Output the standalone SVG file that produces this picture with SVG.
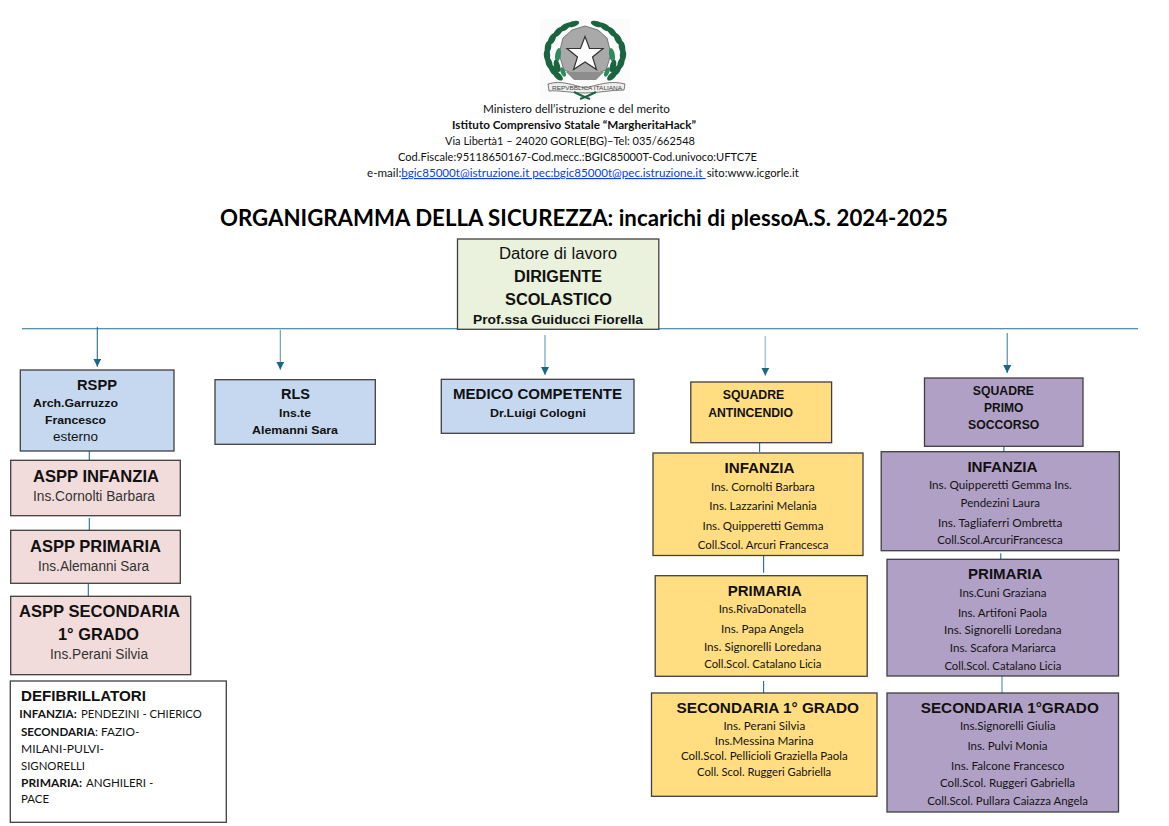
<svg xmlns="http://www.w3.org/2000/svg" width="1169" height="826" viewBox="0 0 1169 826">
<style>
text{fill:#111}
.h{font-family:"Lato","Carlito","Liberation Sans",sans-serif;font-size:11.200px}
.n{font-family:"Lato","Carlito","Liberation Sans",sans-serif;font-size:11.300px;fill:#141414}
.cb{font-weight:700}
.t{font-family:"Lato","Liberation Sans",sans-serif;font-size:23px;font-weight:700;fill:#000}
.a{font-family:"Liberation Sans",Arial,sans-serif}
.b{font-weight:700}
.box{stroke:#3f3f3f;stroke-width:1.3}
.blue{fill:#c6d8f0}.pink{fill:#f2dcdb}.green{fill:#eaf1dd}.yellow{fill:#ffdd80}.purple{fill:#b1a0c6}.white{fill:#fff}
.c{stroke:#1f6f94;stroke-width:1.1;fill:none}
.link{fill:#0a3cf0;text-decoration:underline}
.lf{fill:#1a6440}
.lf2{fill:#2f8a5e}
</style>
<defs>
<marker id="ah" markerUnits="userSpaceOnUse" markerWidth="9" markerHeight="9" refX="8" refY="4" orient="auto"><path d="M0 0L8 4L0 8Z" fill="#1c6688"/></marker>
<g id="wreath">
<ellipse class="lf" cx="573" cy="24" rx="6.500" ry="2.800" transform="rotate(-18 573 24)"/>
<ellipse class="lf" cx="565" cy="27" rx="6.500" ry="3" transform="rotate(-35 565 27)"/>
<ellipse class="lf" cx="558" cy="32" rx="6.500" ry="3" transform="rotate(-48 558 32)"/>
<ellipse class="lf" cx="552" cy="39" rx="6.500" ry="3.200" transform="rotate(-62 552 39)"/>
<ellipse class="lf" cx="548" cy="47" rx="6.500" ry="3.200" transform="rotate(-80 548 47)"/>
<ellipse class="lf" cx="547" cy="55" rx="6.500" ry="3.200" transform="rotate(88 547 55)"/>
<ellipse class="lf" cx="549" cy="63" rx="6.500" ry="3.200" transform="rotate(72 549 63)"/>
<ellipse class="lf" cx="553" cy="70" rx="6.500" ry="3.200" transform="rotate(58 553 70)"/>
<ellipse class="lf" cx="558" cy="76" rx="6" ry="3" transform="rotate(42 558 76)"/>
<ellipse class="lf2" cx="558" cy="55" rx="7" ry="2.800" transform="rotate(-80 558 55)"/>
<ellipse class="lf" cx="557" cy="66" rx="6.500" ry="3" transform="rotate(75 557 66)"/>
<ellipse class="lf2" cx="563" cy="72" rx="5" ry="2.200" transform="rotate(65 563 72)"/>
</g>
</defs>

<g id="emblem">
<rect x="540" y="19" width="90" height="81" fill="#fbfbfb"/>
<path d="M585 26L598 30L607 38L611 54L606 70L585 78L564 70L559 54L563 38L572 30Z" fill="#a9a9a9" stroke="#777" stroke-width="1"/>
<use href="#wreath"/>
<use href="#wreath" transform="translate(1170 0) scale(-1 1)"/>
<path d="M566 72L604 72L596 80L574 80Z" fill="#8d8d8d"/>
<path d="M585 36.500L589.500 48.500L603 48.500L592.500 57L596.500 69.500L585 62L573.500 69.500L577.500 57L567 48.500L580.500 48.500Z" fill="#fff" stroke="#333" stroke-width="1.200"/>
<path d="M548 84C562 80 572 85 585 88C598 85 610 80 625 84L624 90C610 90 598 93 585 93C572 93 558 90 549 91Z" fill="#eee" stroke="#444" stroke-width=".7"/>
<path d="M574 92C580 95 584 97 590 99M596 92C592 94 586 97 580 99" fill="none" stroke="#1a6440" stroke-width="2"/>
<text class="a" x="552" y="90" font-size="4.600" textLength="70" lengthAdjust="spacingAndGlyphs" style="fill:#444">REPVBBLICA ITALIANA</text>
</g>

<g id="letterhead">
<text class="h" x="483" y="113" textLength="187" lengthAdjust="spacingAndGlyphs">Ministero dell’istruzione e del merito</text>
<text class="h cb" x="452" y="129" textLength="244" lengthAdjust="spacingAndGlyphs">Istituto Comprensivo Statale “MargheritaHack”</text>
<text class="h" x="445" y="145" textLength="250" lengthAdjust="spacingAndGlyphs">Via Libertà1 – 24020 GORLE(BG)–Tel: 035/662548</text>
<text class="h" x="398" y="161" textLength="359" lengthAdjust="spacingAndGlyphs">Cod.Fiscale:95118650167-Cod.mecc.:BGIC85000T-Cod.univoco:UFTC7E</text>
<text class="h" x="367" y="177"><tspan textLength="34.300" lengthAdjust="spacingAndGlyphs">e-mail:</tspan><tspan class="link" x="401.300" textLength="301" lengthAdjust="spacingAndGlyphs">bgic85000t@istruzione.it pec:bgic85000t@pec.istruzione.it</tspan><tspan x="706.700" textLength="92" lengthAdjust="spacingAndGlyphs">sito:www.icgorle.it</tspan></text>
<path d="M702 178.500H705.700" stroke="#0a3cf0" stroke-width="1"/>
<text class="t" x="220" y="225.500" textLength="728" lengthAdjust="spacingAndGlyphs">ORGANIGRAMMA DELLA SICUREZZA: incarichi di plessoA.S. 2024-2025</text>
</g>

<g id="connectors">
<path class="c" d="M22 328.700H1138" stroke-width="1.300"/>
<path class="c" d="M97.300 326.700V366.700" marker-end="url(#ah)"/>
<path class="c" d="M280.300 330V369.700" style="stroke:#5d9ab7" marker-end="url(#ah)"/>
<path class="c" d="M545 335V375" style="stroke:#5d9ab7" marker-end="url(#ah)"/>
<path class="c" d="M765.300 336V375.700" style="stroke:#a5c9db;stroke-width:1.500" marker-end="url(#ah)"/>
<path class="c" d="M1007.200 333V373" style="stroke:#3f86a6" marker-end="url(#ah)"/>
<path class="c" d="M89.300 451V460M89.300 518V530M88.300 584V596"/>
<path class="c" d="M759.600 443V452M763.600 556V572.700M763.600 681V693"/>
<path class="c" d="M1003.900 446V456M1000.800 553.300V559.300"/>
<path class="c" d="M1002 676V693" style="stroke:#4a8fb0"/>
</g>

<g id="datore">
<rect class="box green" x="457.500" y="239" width="201.300" height="90.300"/>
<text class="a" x="499" y="259" font-size="16" textLength="118" lengthAdjust="spacingAndGlyphs">Datore di lavoro</text>
<text class="a b" x="514" y="282" font-size="16" textLength="88" lengthAdjust="spacingAndGlyphs">DIRIGENTE</text>
<text class="a b" x="505" y="305" font-size="16" textLength="107" lengthAdjust="spacingAndGlyphs">SCOLASTICO</text>
<text class="a b" x="473" y="324" font-size="13" textLength="170" lengthAdjust="spacingAndGlyphs">Prof.ssa Guiducci Fiorella</text>
</g>

<g id="rspp">
<rect class="box blue" x="20.300" y="370" width="153.700" height="81"/>
<text class="a b" x="77" y="390" font-size="14.500" textLength="40" lengthAdjust="spacingAndGlyphs">RSPP</text>
<text class="a b" x="33" y="407" font-size="11.500" textLength="85" lengthAdjust="spacingAndGlyphs">Arch.Garruzzo</text>
<text class="a b" x="45" y="424" font-size="11.500" textLength="61" lengthAdjust="spacingAndGlyphs">Francesco</text>
<text class="a" x="53" y="441" font-size="12" textLength="45" lengthAdjust="spacingAndGlyphs">esterno</text>
</g>
<g id="rls">
<rect class="box blue" x="215" y="379.700" width="160.300" height="64.600"/>
<text class="a b" x="281" y="399" font-size="15" textLength="29" lengthAdjust="spacingAndGlyphs">RLS</text>
<text class="a b" x="279" y="417" font-size="11.500" textLength="32" lengthAdjust="spacingAndGlyphs">Ins.te</text>
<text class="a b" x="252" y="434" font-size="11.500" textLength="86" lengthAdjust="spacingAndGlyphs">Alemanni Sara</text>
</g>
<g id="medico">
<rect class="box blue" x="441.300" y="379.300" width="192.700" height="54"/>
<text class="a b" x="453" y="399" font-size="15" textLength="169" lengthAdjust="spacingAndGlyphs">MEDICO COMPETENTE</text>
<text class="a b" x="490" y="417" font-size="11.500" textLength="96" lengthAdjust="spacingAndGlyphs">Dr.Luigi Cologni</text>
</g>
<g id="aspp-infanzia">
<rect class="box pink" x="10.700" y="460.300" width="169.600" height="55.400"/>
<text class="a b" x="33" y="482" font-size="16.500" textLength="126" lengthAdjust="spacingAndGlyphs">ASPP INFANZIA</text>
<text class="a" x="33" y="501" font-size="14" textLength="122" lengthAdjust="spacingAndGlyphs" style="fill:#333">Ins.Cornolti Barbara</text>
</g>
<g id="aspp-primaria">
<rect class="box pink" x="10.700" y="530.300" width="169.600" height="53"/>
<text class="a b" x="30" y="552" font-size="16.500" textLength="131" lengthAdjust="spacingAndGlyphs">ASPP PRIMARIA</text>
<text class="a" x="38" y="571" font-size="14" textLength="111" lengthAdjust="spacingAndGlyphs" style="fill:#333">Ins.Alemanni Sara</text>
</g>
<g id="aspp-secondaria">
<rect class="box pink" x="10.700" y="596.300" width="180" height="78.400"/>
<text class="a b" x="19" y="617" font-size="16.500" textLength="161" lengthAdjust="spacingAndGlyphs">ASPP SECONDARIA</text>
<text class="a b" x="58" y="640" font-size="16.500" textLength="81" lengthAdjust="spacingAndGlyphs">1° GRADO</text>
<text class="a" x="50" y="659" font-size="14" textLength="98" lengthAdjust="spacingAndGlyphs" style="fill:#333">Ins.Perani Silvia</text>
</g>
<g id="defibrillatori">
<rect class="box white" x="10.300" y="681" width="216" height="141.300"/>
<text class="a b" x="21" y="701" font-size="15.500" textLength="125" lengthAdjust="spacingAndGlyphs">DEFIBRILLATORI</text>
<text class="n" x="19.300" y="718"><tspan class="cb" textLength="57.400" lengthAdjust="spacingAndGlyphs">INFANZIA:</tspan><tspan x="81" textLength="120.700" lengthAdjust="spacingAndGlyphs">PENDEZINI - CHIERICO</tspan></text>
<text class="n" x="21" y="736"><tspan class="cb" textLength="74" lengthAdjust="spacingAndGlyphs">SECONDARIA</tspan><tspan x="95" textLength="44.300" lengthAdjust="spacingAndGlyphs">: FAZIO-</tspan></text>
<text class="n" x="21" y="753" textLength="83" lengthAdjust="spacingAndGlyphs">MILANI-PULVI-</text>
<text class="n" x="21" y="770" textLength="64" lengthAdjust="spacingAndGlyphs">SIGNORELLI</text>
<text class="n" x="21" y="787"><tspan class="cb" textLength="61" lengthAdjust="spacingAndGlyphs">PRIMARIA:</tspan><tspan x="86" textLength="67.300" lengthAdjust="spacingAndGlyphs">ANGHILERI -</tspan></text>
<text class="n" x="21" y="803" textLength="28" lengthAdjust="spacingAndGlyphs">PACE</text>
</g>

<g id="squadre-antincendio">
<rect class="box yellow" x="690.800" y="382" width="140.800" height="60.700"/>
<text class="a b" x="722.800" y="399.300" font-size="12" textLength="61.500" lengthAdjust="spacingAndGlyphs">SQUADRE</text>
<text class="a b" x="708.200" y="416.700" font-size="12" textLength="84.800" lengthAdjust="spacingAndGlyphs">ANTINCENDIO</text>
</g>
<g id="antincendio-infanzia">
<rect class="box yellow" x="653" y="453" width="210" height="102.500"/>
<text class="a b" x="724.500" y="473.300" font-size="15.500" textLength="69.900" lengthAdjust="spacingAndGlyphs">INFANZIA</text>
<text class="n" x="711" y="490.700" textLength="103.700" lengthAdjust="spacingAndGlyphs">Ins. Cornolti Barbara</text>
<text class="n" x="709.300" y="510.300" textLength="107.400" lengthAdjust="spacingAndGlyphs">Ins. Lazzarini Melania</text>
<text class="n" x="702.500" y="530" textLength="120.900" lengthAdjust="spacingAndGlyphs">Ins. Quipperetti Gemma</text>
<text class="n" x="697.800" y="548.700" textLength="130.700" lengthAdjust="spacingAndGlyphs">Coll.Scol. Arcuri Francesca</text>
</g>
<g id="antincendio-primaria">
<rect class="box yellow" x="655.200" y="575.700" width="212" height="100.600"/>
<text class="a b" x="727.800" y="596" font-size="15.500" textLength="74" lengthAdjust="spacingAndGlyphs">PRIMARIA</text>
<text class="n" x="718.700" y="613.300" textLength="87.500" lengthAdjust="spacingAndGlyphs">Ins.RivaDonatella</text>
<text class="n" x="721" y="633.300" textLength="82.900" lengthAdjust="spacingAndGlyphs">Ins. Papa Angela</text>
<text class="n" x="703.900" y="650.700" textLength="117.500" lengthAdjust="spacingAndGlyphs">Ins. Signorelli Loredana</text>
<text class="n" x="704.200" y="668.300" textLength="117.200" lengthAdjust="spacingAndGlyphs">Coll.Scol. Catalano Licia</text>
</g>
<g id="antincendio-secondaria">
<rect class="box yellow" x="651.500" y="693" width="225.500" height="103.300"/>
<text class="a b" x="676.500" y="712.700" font-size="15.500" textLength="182.400" lengthAdjust="spacingAndGlyphs">SECONDARIA 1° GRADO</text>
<text class="n" x="723.400" y="729.700" textLength="81.800" lengthAdjust="spacingAndGlyphs">Ins. Perani Silvia</text>
<text class="n" x="714.700" y="745" textLength="98.900" lengthAdjust="spacingAndGlyphs">Ins.Messina Marina</text>
<text class="n" x="680.900" y="760" textLength="166.900" lengthAdjust="spacingAndGlyphs">Coll.Scol. Pellicioli Graziella Paola</text>
<text class="n" x="697" y="775.700" textLength="134.200" lengthAdjust="spacingAndGlyphs">Coll. Scol. Ruggeri Gabriella</text>
</g>

<g id="squadre-primo-soccorso">
<rect class="box purple" x="924.500" y="378" width="158.500" height="68.300"/>
<text class="a b" x="972.800" y="395.300" font-size="12" textLength="61.200" lengthAdjust="spacingAndGlyphs">SQUADRE</text>
<text class="a b" x="984" y="412.300" font-size="12" textLength="39.400" lengthAdjust="spacingAndGlyphs">PRIMO</text>
<text class="a b" x="968" y="429.300" font-size="12" textLength="71.300" lengthAdjust="spacingAndGlyphs">SOCCORSO</text>
</g>
<g id="soccorso-infanzia">
<rect class="box purple" x="881.200" y="451.700" width="238.100" height="99"/>
<text class="a b" x="967.400" y="472" font-size="15.500" textLength="70.200" lengthAdjust="spacingAndGlyphs">INFANZIA</text>
<text class="n" x="928.900" y="489.300" textLength="142.900" lengthAdjust="spacingAndGlyphs">Ins. Quipperetti Gemma Ins.</text>
<text class="n" x="960.600" y="506.700" textLength="79.400" lengthAdjust="spacingAndGlyphs">Pendezini Laura</text>
<text class="n" x="938" y="526.700" textLength="124.300" lengthAdjust="spacingAndGlyphs">Ins. Tagliaferri Ombretta</text>
<text class="n" x="937.300" y="544.300" textLength="125.300" lengthAdjust="spacingAndGlyphs">Coll.Scol.ArcuriFrancesca</text>
</g>
<g id="soccorso-primaria">
<rect class="box purple" x="887" y="559.300" width="231.500" height="116.700"/>
<text class="a b" x="968" y="579.300" font-size="15.500" textLength="74.400" lengthAdjust="spacingAndGlyphs">PRIMARIA</text>
<text class="n" x="959.300" y="596.700" textLength="87.100" lengthAdjust="spacingAndGlyphs">Ins.Cuni Graziana</text>
<text class="n" x="957.900" y="616.700" textLength="89.200" lengthAdjust="spacingAndGlyphs">Ins. Artifoni Paola</text>
<text class="n" x="944" y="634.300" textLength="117.600" lengthAdjust="spacingAndGlyphs">Ins. Signorelli Loredana</text>
<text class="n" x="949.800" y="652" textLength="106.100" lengthAdjust="spacingAndGlyphs">Ins. Scafora Mariarca</text>
<text class="n" x="944.400" y="669.700" textLength="116.900" lengthAdjust="spacingAndGlyphs">Coll.Scol. Catalano Licia</text>
</g>
<g id="soccorso-secondaria">
<rect class="box purple" x="887" y="693" width="231.500" height="119"/>
<text class="a b" x="920.700" y="712.700" font-size="15.500" textLength="178.100" lengthAdjust="spacingAndGlyphs">SECONDARIA 1°GRADO</text>
<text class="n" x="959.900" y="730" textLength="95.600" lengthAdjust="spacingAndGlyphs">Ins.Signorelli Giulia</text>
<text class="n" x="967.400" y="750" textLength="80" lengthAdjust="spacingAndGlyphs">Ins. Pulvi Monia</text>
<text class="n" x="951.100" y="770" textLength="113.200" lengthAdjust="spacingAndGlyphs">Ins. Falcone Francesco</text>
<text class="n" x="940" y="787.300" textLength="135.100" lengthAdjust="spacingAndGlyphs">Coll.Scol. Ruggeri Gabriella</text>
<text class="n" x="927.200" y="805" textLength="160.800" lengthAdjust="spacingAndGlyphs">Coll.Scol. Pullara Caiazza Angela</text>
</g>
</svg>
